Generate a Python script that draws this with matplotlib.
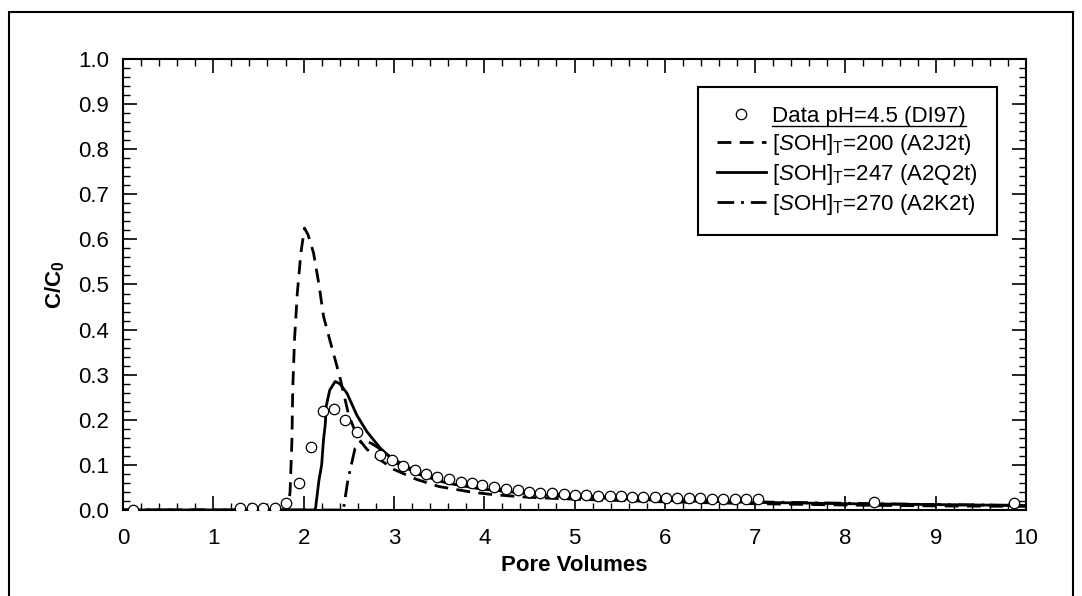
import numpy as np
import matplotlib
matplotlib.use('Agg')
import matplotlib.pyplot as plt
from matplotlib.patches import Rectangle
from matplotlib.ticker import MultipleLocator, FormatStrFormatter

plt.rcParams['font.family'] = ['Liberation Sans', 'DejaVu Sans']
plt.rcParams['mathtext.fontset'] = 'custom'
plt.rcParams['mathtext.rm'] = 'Liberation Sans'
plt.rcParams['mathtext.it'] = 'Liberation Sans:italic'
plt.rcParams['mathtext.bf'] = 'Liberation Sans:bold'

### data ###

data_x = [0.11, 1.30, 1.43, 1.55, 1.68, 1.81, 1.95, 2.08, 2.21, 2.34, 2.46, 2.59,
          2.85, 2.98, 3.10, 3.23, 3.36, 3.48, 3.61, 3.74, 3.87, 3.98, 4.11, 4.24,
          4.37, 4.50, 4.62, 4.75, 4.88, 5.00, 5.13, 5.26, 5.39, 5.51, 5.64, 5.76,
          5.89, 6.01, 6.14, 6.27, 6.39, 6.52, 6.65, 6.78, 6.90, 7.03, 8.32, 9.87]
data_y = [0.0, 0.004, 0.004, 0.004, 0.004, 0.015, 0.06, 0.14, 0.22, 0.225, 0.20, 0.172,
          0.123, 0.111, 0.098, 0.089, 0.080, 0.074, 0.068, 0.063, 0.059, 0.055, 0.050, 0.047,
          0.044, 0.041, 0.038, 0.037, 0.035, 0.034, 0.0325, 0.032, 0.030, 0.030, 0.029, 0.028,
          0.028, 0.027, 0.027, 0.026, 0.026, 0.025, 0.025, 0.024, 0.024, 0.024, 0.017, 0.016]

# [SOH]T=200
j2_x = [0, 1.80, 1.83, 1.85, 1.87, 1.88, 1.90, 1.93, 1.97, 2.01, 2.05, 2.11, 2.17, 2.22,
        2.29, 2.40, 2.50, 2.60, 2.70, 2.80, 3.00, 3.25, 3.50, 3.85, 4.10, 4.50, 5.0, 6.0,
        7.0, 8.0, 9.0, 10.0]
j2_y = [0, 0, 0.005, 0.04, 0.15, 0.27, 0.38, 0.48, 0.57, 0.625, 0.61, 0.57, 0.50, 0.43,
        0.377, 0.296, 0.21, 0.16, 0.135, 0.118, 0.090, 0.068, 0.052, 0.040, 0.034, 0.028,
        0.024, 0.018, 0.014, 0.011, 0.009, 0.008]

# [SOH]T=247
q2_x = [0, 2.13, 2.17, 2.20, 2.22, 2.24, 2.25, 2.29, 2.35, 2.40, 2.48, 2.59, 2.70, 2.85,
        3.03, 3.29, 3.58, 3.95, 4.60, 5.0, 6.0, 7.0, 8.0, 9.0, 10.0]
q2_y = [0, 0, 0.066, 0.10, 0.155, 0.19, 0.23, 0.266, 0.285, 0.28, 0.259, 0.21, 0.174, 0.137,
        0.104, 0.078, 0.060, 0.047, 0.034, 0.029, 0.021, 0.017, 0.014, 0.012, 0.010]

# [SOH]T=270
k2_x = [0, 2.44, 2.49, 2.57, 2.63, 2.68, 2.75, 2.85, 3.00, 3.25, 3.50, 4.0, 4.5, 5.0,
        6.0, 7.0, 8.0, 9.0, 10.0]
k2_y = [0, 0, 0.066, 0.137, 0.15, 0.153, 0.148, 0.135, 0.112, 0.085, 0.068, 0.050, 0.039,
        0.032, 0.024, 0.018, 0.015, 0.012, 0.010]

labels = ['Data pH=4.5 (DI97)',
          r'[$\mathit{S}$OH]$_\mathrm{T}$=200 (A2J2t)',
          r'[$\mathit{S}$OH]$_\mathrm{T}$=247 (A2Q2t)',
          r'[$\mathit{S}$OH]$_\mathrm{T}$=270 (A2K2t)']

W, H = 1082, 596
fs = 16
fig = plt.figure(figsize=(W / 100, H / 100), dpi=100)
ax = fig.add_axes([123 / W, 1 - 510 / H, (1026 - 123) / W, (510 - 59) / H])

# outer frame
fig.patches.append(Rectangle((9 / W, -0.05), (1073 - 9) / W, 1.05 - 12 / H,
                             transform=fig.transFigure, fill=False,
                             edgecolor='black', linewidth=1.5))

ax.plot(data_x, data_y, linestyle='none', marker='o', markersize=7.5,
        markerfacecolor='white', markeredgecolor='black', markeredgewidth=0.9,
        label=labels[0], zorder=3)
ax.plot(j2_x, j2_y, color='black', linewidth=2, linestyle=(0, (5, 3)), label=labels[1])
ax.plot(q2_x, q2_y, color='black', linewidth=2, linestyle='-', label=labels[2])
ax.plot(k2_x, k2_y, color='black', linewidth=2, linestyle=(0, (6, 2.5, 1, 2.5)), label=labels[3])

ax.set_xlim(0, 10)
ax.set_ylim(0, 1.0)
ax.xaxis.set_major_locator(MultipleLocator(1))
ax.xaxis.set_minor_locator(MultipleLocator(0.2))
ax.yaxis.set_major_locator(MultipleLocator(0.1))
ax.yaxis.set_minor_locator(MultipleLocator(0.02))
ax.yaxis.set_major_formatter(FormatStrFormatter('%.1f'))
ax.tick_params(which='both', direction='in', top=True, right=True, labelsize=fs, colors='black')
ax.tick_params(which='major', length=10, width=1.2)
ax.tick_params(axis='y', which='major', pad=10)
ax.tick_params(axis='x', which='major', pad=13)
ax.tick_params(which='minor', length=5, width=1.0)
for s in ax.spines.values():
    s.set_linewidth(1.5)

ax.set_xlabel('Pore Volumes', fontsize=fs, fontweight='bold', labelpad=4)
ax.set_ylabel(r'C/C$_\mathbf{0}$', fontsize=fs, fontweight='bold', labelpad=8)

leg = ax.legend(loc='upper right', bbox_to_anchor=(997 / W, 1 - 87 / H),
                bbox_transform=fig.transFigure, fontsize=fs, frameon=True,
                fancybox=False, edgecolor='black', framealpha=1,
                handlelength=2.2, handletextpad=0.3, labelspacing=0.22,
                borderpad=0.85, borderaxespad=0)
leg.get_frame().set_linewidth(1.5)

# underline first legend entry
fig.canvas.draw()
r = fig.canvas.get_renderer()
bb = leg.get_texts()[0].get_window_extent(r)
fig.add_artist(plt.Line2D([bb.x0 / W, bb.x1 / W], [(bb.y0 + 1) / H, (bb.y0 + 1) / H],
                          transform=fig.transFigure, color='black', linewidth=1.0))

plt.savefig('out.png', dpi=100)
